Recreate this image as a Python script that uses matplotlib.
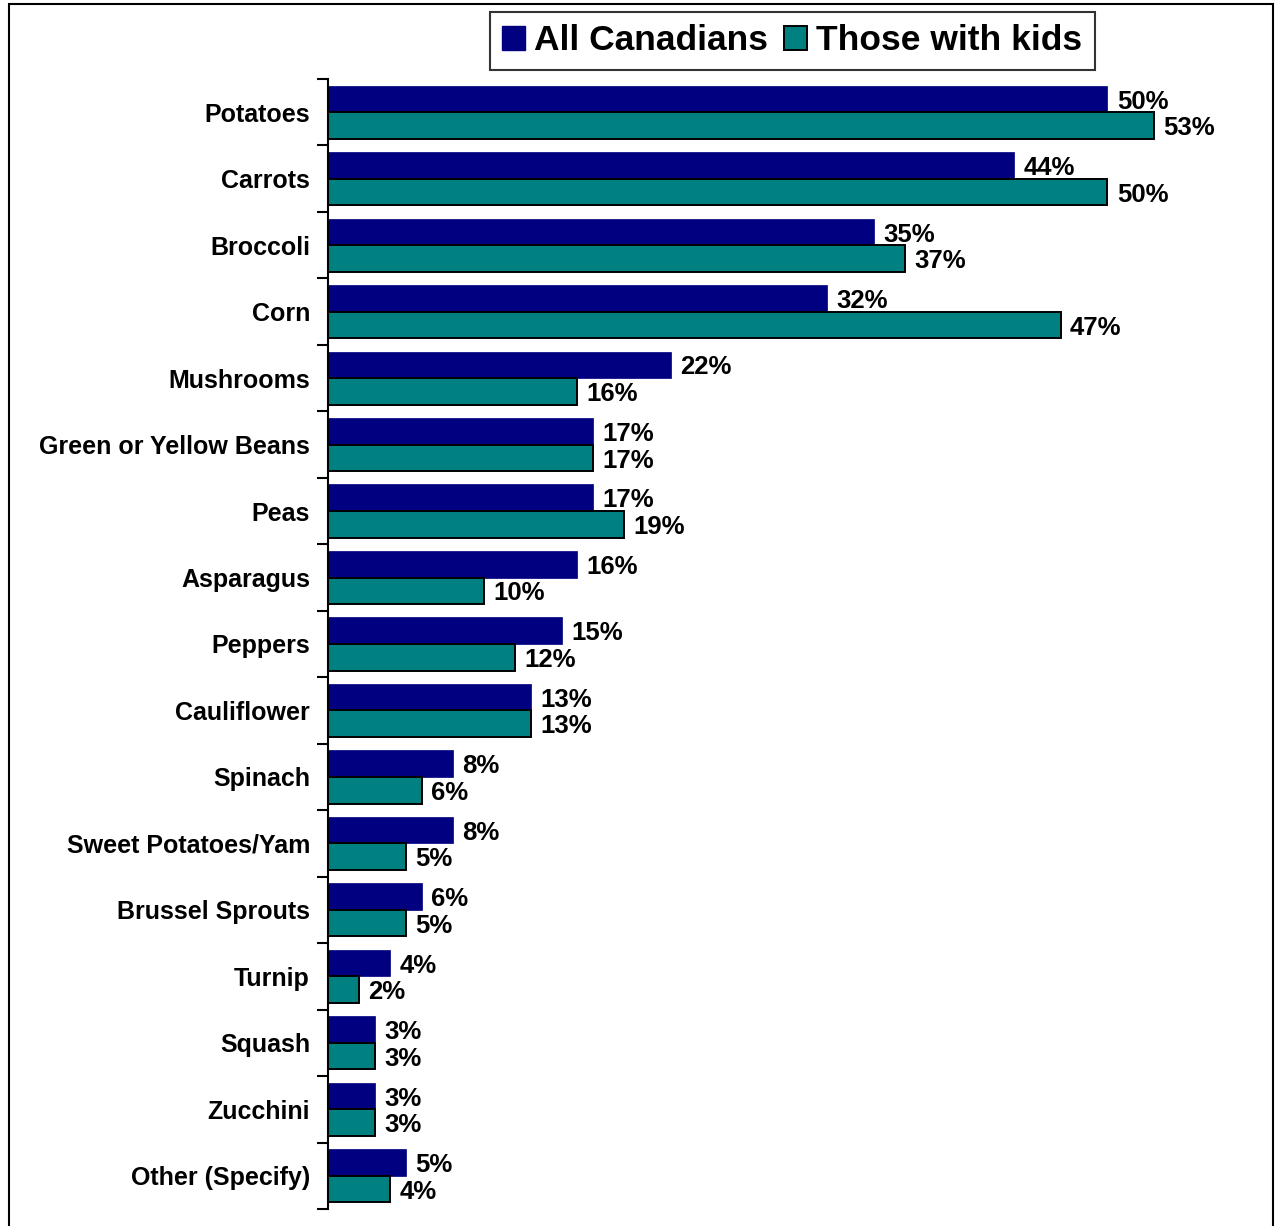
import numpy as np
import matplotlib.pyplot as plt
from matplotlib.patches import Rectangle, Patch

plt.rcParams['font.family'] = ['Liberation Sans', 'DejaVu Sans']
plt.rcParams['font.weight'] = 'bold'

# Vegetables, listed top to bottom
vegetables = ['Potatoes', 'Carrots', 'Broccoli', 'Corn', 'Mushrooms',
              'Green or Yellow Beans', 'Peas', 'Asparagus', 'Peppers',
              'Cauliflower', 'Spinach', 'Sweet Potatoes/Yam',
              'Brussel Sprouts', 'Turnip', 'Squash', 'Zucchini',
              'Other (Specify)']
all_canadians = [50, 44, 35, 32, 22, 17, 17, 16, 15, 13, 8, 8, 6, 4, 3, 3, 5]
with_kids = [53, 50, 37, 47, 16, 17, 19, 10, 12, 13, 6, 5, 5, 2, 3, 3, 4]

navy = '#000080'
teal = '#008080'

fig = plt.figure(figsize=(12.77, 12.26), dpi=100)
ax = fig.add_axes([328 / 1277, 1 - 1209 / 1226, 940 / 1277, 1130 / 1226])

y = np.arange(len(vegetables))
h = 0.4
ax.barh(y - h / 2, all_canadians, height=h, color=navy, edgecolor=navy,
        linewidth=0.5)
ax.barh(y + h / 2, with_kids, height=h, color=teal, edgecolor='black',
        linewidth=1.4)

for i, (a, k) in enumerate(zip(all_canadians, with_kids)):
    ax.text(a + 0.6, i - h / 2 + 0.04, f'{a}%', va='center', ha='left',
            fontsize=18.5, fontweight='bold')
    ax.text(k + 0.6, i + h / 2 + 0.04, f'{k}%', va='center', ha='left',
            fontsize=18.5, fontweight='bold')

ax.set_xlim(0, 60.3)
ax.set_ylim(len(vegetables) - 0.5, -0.5)
ax.set_yticks(y)
ax.set_yticklabels(vegetables, fontsize=18, fontweight='bold')
ax.set_yticks(np.arange(len(vegetables) + 1) - 0.5, minor=True)
ax.tick_params(axis='y', which='major', length=0, pad=13)
ax.tick_params(axis='y', which='minor', length=8, width=1.5, direction='out')
ax.set_xticks([])
for s in ['top', 'right', 'bottom']:
    ax.spines[s].set_visible(False)
ax.spines['left'].set_linewidth(1.5)

handles = [Patch(facecolor=navy, edgecolor=navy),
           Patch(facecolor=teal, edgecolor='black', linewidth=1.4)]
leg = fig.legend(handles, ['All Canadians', 'Those with kids'],
                 loc='upper left', bbox_to_anchor=(490 / 1277, 1 - 12 / 1226),
                 ncol=2, prop={'weight': 'bold', 'size': 25.5},
                 frameon=True, fancybox=False, edgecolor='black',
                 handlelength=0.65, handleheight=0.65, handletextpad=0.25,
                 columnspacing=0.45, borderpad=0.35, borderaxespad=0)
leg.get_frame().set_linewidth(1.5)

# outer border around the whole chart
fig.patches.append(Rectangle((9 / 1277, -0.01), 1264 / 1277, 1.01 - 4 / 1226,
                             transform=fig.transFigure, fill=False,
                             edgecolor='black', linewidth=1.5))

fig.savefig('out.png', dpi=100)
